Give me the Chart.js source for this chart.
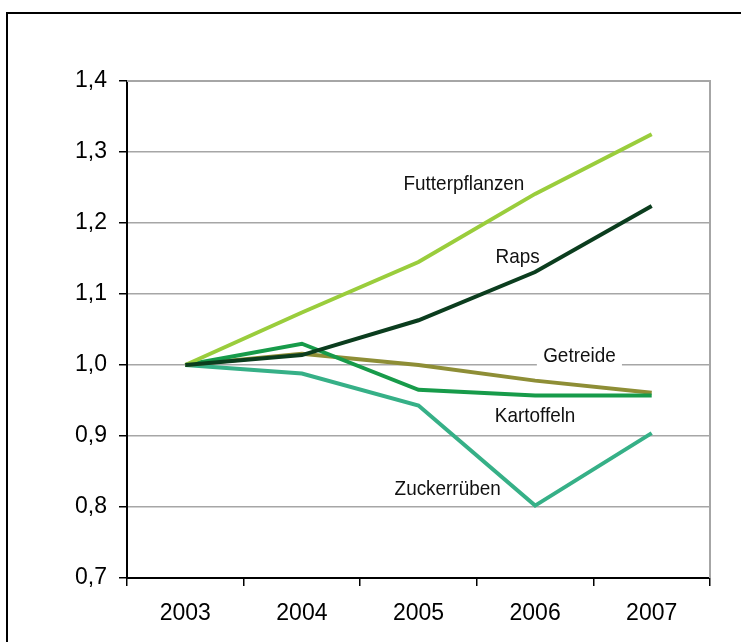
<!DOCTYPE html>
<html>
<head>
<meta charset="utf-8">
<script src="https://cdn.jsdelivr.net/npm/chart.js@4"></script>
<style>
  body { margin: 0; background: #fff; }
  #grafik { display: block; }
</style>
</head>
<body>
<canvas id="grafik" width="741" height="642"></canvas>
<script>
// Jahre und Indexwerte (2003 = 1,0)
const jahre = ["2003", "2004", "2005", "2006", "2007"];
const futterpflanzen = [1.0, 1.074, 1.145, 1.241, 1.325];
const raps = [1.0, 1.014, 1.063, 1.131, 1.224];
const getreide = [1.0, 1.016, 1.0, 0.978, 0.961];
const kartoffeln = [1.0, 1.030, 0.965, 0.957, 0.957];
const zuckerrueben = [1.0, 0.988, 0.943, 0.802, 0.904];

// Beschriftungen im Diagramm (x = Kategorie-Index, y = Wert)
const beschriftung = ["Futterpflanzen", "Raps", "Getreide", "Kartoffeln", "Zuckerrüben"];
const beschriftungX = [2.39, 2.85, 3.38, 3.0, 2.25];
const beschriftungY = [1.256, 1.153, 1.014, 0.929, 0.826];
const mitHintergrund = [false, false, true, false, false];

const yMin = 0.7, yMax = 1.4, yStep = 0.1;

// Rahmen um das ganze Bild + graue Kante rechts
const rahmen = {
    id: "rahmen",
    beforeDraw(c) {
        const ctx = c.ctx;
        ctx.save();
        ctx.fillStyle = "#fff";
        ctx.fillRect(0, 0, c.width, c.height);
        ctx.strokeStyle = "#000";
        ctx.lineWidth = 2;
        ctx.strokeRect(7, 13, 900, 900);
        ctx.restore();
    },
    beforeDatasetsDraw(c) {
        const ctx = c.ctx, a = c.chartArea;
        ctx.save();
        ctx.strokeStyle = "#a6a6a6";
        ctx.lineWidth = 2;
        ctx.beginPath();
        ctx.moveTo(a.left, a.top);
        ctx.lineTo(a.right, a.top);
        ctx.lineTo(a.right, a.bottom);
        ctx.stroke();
        ctx.restore();
    }
};

// Texte an den Linien
const texte = {
    id: "texte",
    afterDatasetsDraw(c) {
        const ctx = c.ctx, sx = c.scales.x, sy = c.scales.y;
        ctx.save();
        ctx.font = "21px 'Liberation Sans', Arial, sans-serif";
        ctx.textAlign = "center";
        ctx.textBaseline = "middle";
        beschriftung.forEach((t, i) => {
            const px = sx.getPixelForValue(beschriftungX[i]);
            const py = sy.getPixelForValue(beschriftungY[i]);
            ctx.save();
            ctx.translate(px, py);
            ctx.scale(0.9, 1);
            const w = ctx.measureText(t).width;
            if (mitHintergrund[i]) {
                ctx.fillStyle = "#fff";
                ctx.fillRect(-w / 2 - 7, -12, w + 14, 24);
            }
            ctx.fillStyle = "#111";
            ctx.fillText(t, 0, 1);
            ctx.restore();
        });
        ctx.restore();
    }
};

const linie = (data, farbe) => ({
    data, borderColor: farbe, backgroundColor: farbe,
    borderWidth: 4, pointRadius: 0, tension: 0, fill: false
});

new Chart(grafik, {
    type: "line",
    data: {
        labels: jahre,
        datasets: [
            linie(raps, "#0b3d1e"),
            linie(futterpflanzen, "#9acd3c"),
            linie(kartoffeln, "#179b4a"),
            linie(getreide, "#8e8e36"),
            linie(zuckerrueben, "#36b087")
        ]
    },
    options: {
        responsive: false, animation: false,
        layout: { padding: { top: 81, right: 31, left: 0, bottom: 0 } },
        plugins: { legend: { display: false }, tooltip: { enabled: false } },
        scales: {
            x: {
                offset: true,
                afterFit: s => { s.height = 64; },
                grid: { offset: true, drawOnChartArea: false, tickLength: 8, tickColor: "#000", lineWidth: 1.5 },
                border: { color: "#000", width: 2 },
                ticks: { color: "#000", padding: 14, font: { family: "'Liberation Sans', Arial", size: 23 } }
            },
            y: {
                min: yMin, max: yMax,
                afterFit: s => { s.width = 127; },
                grid: { color: "#a6a6a6", lineWidth: 1.5, tickLength: 8, tickColor: "#000" },
                border: { color: "#000", width: 2 },
                ticks: {
                    stepSize: yStep, color: "#000", padding: 12,
                    font: { family: "'Liberation Sans', Arial", size: 23 },
                    callback: v => v.toFixed(1).replace(".", ",")
                }
            }
        }
    },
    plugins: [rahmen, texte]
});
</script>
</body>
</html>
